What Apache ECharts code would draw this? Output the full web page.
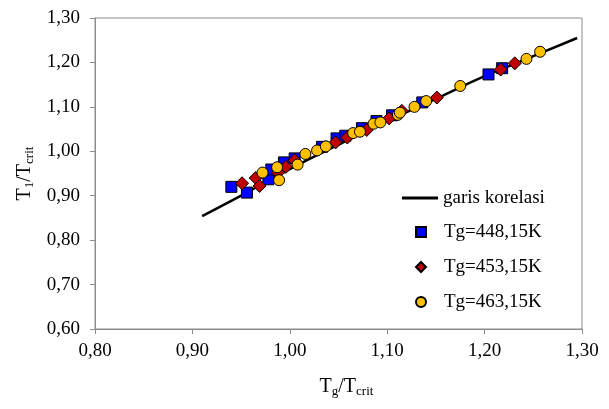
<!DOCTYPE html>
<html>
<head>
<meta charset="utf-8">
<script src="https://cdn.jsdelivr.net/npm/echarts@6/dist/echarts.min.js"></script>
<style>html,body{margin:0;padding:0;background:#fff;}#c{width:609px;height:409px;}</style>
</head>
<body>
<div id="c"></div>
<script>
// correlation line
var lineX = [0.91, 0.95, 1.00, 1.05, 1.10, 1.15, 1.20, 1.25, 1.295];
var lineY = [0.854, 0.900, 0.960, 1.015, 1.068, 1.118, 1.169, 1.214, 1.255];

// Tg = 448,15K
var s448X = [0.940, 0.956, 0.978, 0.981, 0.994, 1.005, 1.033, 1.048, 1.057, 1.074, 1.089, 1.105, 1.136, 1.204, 1.218];
var s448Y = [0.920, 0.907, 0.937, 0.959, 0.975, 0.984, 1.010, 1.029, 1.035, 1.052, 1.068, 1.081, 1.110, 1.173, 1.187];

// Tg = 453,15K
var s453X = [0.951, 0.965, 0.969, 0.988, 0.996, 1.005, 1.047, 1.059, 1.079, 1.102, 1.115, 1.151, 1.2165, 1.231];
var s453Y = [0.928, 0.940, 0.922, 0.952, 0.965, 0.980, 1.020, 1.031, 1.048, 1.074, 1.091, 1.121, 1.184, 1.198];

// Tg = 463,15K
var s463X = [0.972, 0.987, 0.989, 1.008, 1.016, 1.028, 1.037, 1.065, 1.072, 1.086, 1.093, 1.111, 1.113, 1.128, 1.140, 1.175, 1.243, 1.257];
var s463Y = [0.952, 0.964, 0.935, 0.970, 0.994, 1.002, 1.011, 1.041, 1.044, 1.062, 1.065, 1.082, 1.087, 1.100, 1.113, 1.147, 1.208, 1.224];

var seriesNames = ['garis korelasi', 'Tg=448,15K', 'Tg=453,15K', 'Tg=463,15K'];

function zip(a, b) { return a.map(function (v, i) { return [v, b[i]]; }); }
function fmt(v) { return v.toFixed(2).replace('.', ','); }

var FONT = 'Liberation Serif';
var FS = 19;
var titleRich = {
  m: { fontFamily: FONT, fontSize: 20, color: '#000' },
  s: { fontFamily: FONT, fontSize: 13, color: '#000', verticalAlign: 'bottom', padding: [9, 0, 0, 0] }
};
var chart = echarts.init(document.getElementById('c'), null, { renderer: 'canvas' });
chart.setOption({
  animation: false,
  backgroundColor: '#ffffff',
  textStyle: { fontFamily: FONT, color: '#000' },
  grid: { left: 95, right: 27, top: 18, bottom: 80, show: true, borderColor: '#8c8c8c', borderWidth: 1, backgroundColor: 'transparent' },
  xAxis: {
    type: 'value', min: 0.8, max: 1.3, interval: 0.1,
    name: '{m|T}{s|g}{m|/T}{s|crit}', nameLocation: 'middle', nameGap: 47,
    nameTextStyle: { rich: titleRich, padding: [0, 0, 0, 16] },
    axisLine: { show: true, lineStyle: { color: '#8c8c8c', width: 1 } },
    axisTick: { show: true, inside: false, length: 5, lineStyle: { color: '#8c8c8c' } },
    splitLine: { show: false },
    axisLabel: { formatter: fmt, fontFamily: FONT, fontSize: FS, color: '#000', margin: 13 }
  },
  yAxis: {
    type: 'value', min: 0.6, max: 1.3, interval: 0.1,
    name: '{m|T}{s|1}{m|/T}{s|crit}', nameLocation: 'middle', nameGap: 53, nameRotate: 90,
    nameTextStyle: { rich: titleRich },
    axisLine: { show: true, lineStyle: { color: '#8c8c8c', width: 1 } },
    axisTick: { show: true, inside: false, length: 5, lineStyle: { color: '#8c8c8c' } },
    splitLine: { show: false },
    axisLabel: { formatter: fmt, fontFamily: FONT, fontSize: FS, color: '#000', margin: 15 }
  },
  legend: [
    {
      orient: 'vertical', left: 397, top: 183, itemWidth: 36, itemHeight: 3,
      textStyle: { fontFamily: FONT, fontSize: FS, color: '#000', lineHeight: 20 },
      data: [{ name: seriesNames[0], icon: 'rect' }]
    },
    {
      orient: 'vertical', left: 410, top: 217, itemGap: 15, itemWidth: 10, itemHeight: 10,
      textStyle: { fontFamily: FONT, fontSize: FS, color: '#000', lineHeight: 20, padding: [0, 0, 0, 13] },
      data: seriesNames.slice(1)
    }
  ],
  series: [
    { name: seriesNames[0], type: 'line', data: zip(lineX, lineY), smooth: true, symbol: 'none', showSymbol: false,
      lineStyle: { color: '#000', width: 2.5 }, itemStyle: { color: '#000' }, z: 1 },
    { name: seriesNames[1], type: 'scatter', data: zip(s448X, s448Y), symbol: 'rect', symbolSize: 11,
      itemStyle: { color: '#0000ff', borderColor: '#000', borderWidth: 1, opacity: 1 }, z: 2 },
    { name: seriesNames[2], type: 'scatter', data: zip(s453X, s453Y), symbol: 'diamond', symbolSize: 13,
      itemStyle: { color: '#c00000', borderColor: '#000', borderWidth: 1, opacity: 1 }, z: 3 },
    { name: seriesNames[3], type: 'scatter', data: zip(s463X, s463Y), symbol: 'circle', symbolSize: 11,
      itemStyle: { color: '#ffc000', borderColor: '#000', borderWidth: 1, opacity: 1 }, z: 4 }
  ]
});
</script>
</body>
</html>
